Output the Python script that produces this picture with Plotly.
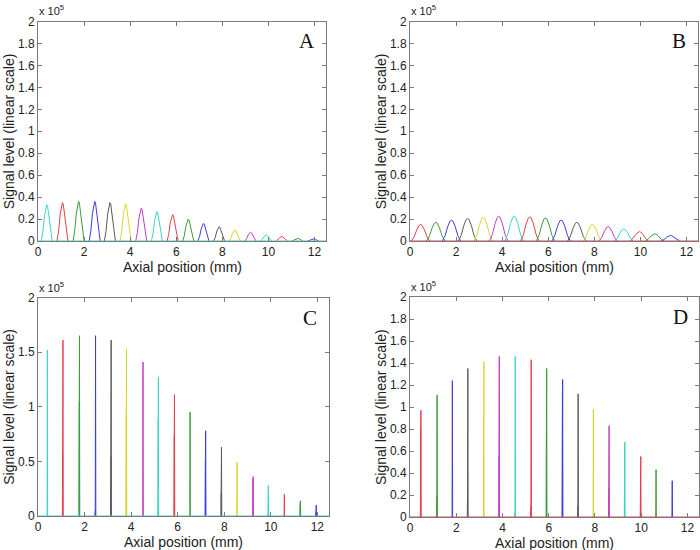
import plotly.graph_objects as go

# ---------------- data (signal in units of 1e5) ----------------
palette = {"c": "#3fd3c3", "r": "#e2404a", "g": "#3c9a3c", "b": "#3c3ce0",
           "k": "#5a5a5a", "y": "#d6d630", "m": "#c43cc4"}

# Panel A: smooth peaks
a_pos = [0.38, 1.06, 1.76, 2.46, 3.12, 3.80, 4.48, 5.16, 5.84, 6.52, 7.18, 7.86,
         8.54, 9.22, 9.90, 10.58, 11.26, 11.94]
a_val = [0.33, 0.35, 0.36, 0.36, 0.35, 0.34, 0.30, 0.27, 0.24, 0.20, 0.16, 0.13,
         0.10, 0.08, 0.055, 0.04, 0.025, 0.02]
a_col = ["c", "r", "g", "b", "k", "y", "m", "c", "r", "g", "b", "k", "y", "m",
         "c", "r", "g", "b"]
a_halfwidth = 0.24

# Panel B: wider smooth peaks
b_pos = [0.46, 1.12, 1.80, 2.50, 3.18, 3.85, 4.52, 5.20, 5.88, 6.56, 7.24, 7.92,
         8.60, 9.28, 9.95, 10.62, 11.30]
b_val = [0.15, 0.17, 0.19, 0.205, 0.215, 0.225, 0.225, 0.22, 0.21, 0.19, 0.17,
         0.15, 0.13, 0.11, 0.085, 0.065, 0.05]
b_col = ["r", "g", "b", "k", "y", "m", "c", "r", "g", "b", "k", "y", "m", "c",
         "r", "g", "b"]
b_halfwidth = 0.40

# normalised peak profile (offset in half-widths, relative height)
profile_off = [-1.0, -0.7, -0.4, -0.15, 0.0, 0.15, 0.4, 0.7, 1.0]
profile_rel = [0.0, 0.25, 0.70, 0.96, 1.0, 0.96, 0.70, 0.25, 0.0]

# Panel C: spikes (main height, secondary height)
c_pos = [0.39, 1.06, 1.77, 2.46, 3.13, 3.79, 4.50, 5.16, 5.85, 6.52, 7.19, 7.87,
         8.54, 9.23, 9.88, 10.57, 11.26, 11.94]
c_main = [1.52, 1.61, 1.65, 1.65, 1.61, 1.53, 1.41, 1.27, 1.11, 0.95, 0.78, 0.63,
          0.49, 0.36, 0.28, 0.20, 0.14, 0.10]
c_sec = [0.0, 0.57, 1.04, 0.05, 0.54, 0.97, 0.0, 0.88, 0.74, 0.0, 0.53, 0.21,
         0.0, 0.34, 0.03, 0.0, 0.12, 0.03]
c_col = ["c", "r", "g", "b", "k", "y", "m", "c", "r", "g", "b", "k", "y", "m",
         "c", "r", "g", "b"]

# Panel D: spikes
d_pos = [0.46, 1.16, 1.82, 2.49, 3.18, 3.85, 4.54, 5.23, 5.90, 6.59, 7.26, 7.92,
         8.60, 9.28, 9.97, 10.63, 11.33]
d_main = [0.97, 1.11, 1.24, 1.35, 1.41, 1.46, 1.46, 1.43, 1.35, 1.25, 1.12, 0.98,
          0.83, 0.68, 0.55, 0.43, 0.33]
d_sec = [0.81, 0.19, 0.0, 0.24, 0.0, 0.55, 0.04, 0.10, 0.77, 1.15, 0.10, 0.02,
         0.26, 0.64, 0.30, 0.0, 0.0]
d_col = ["r", "g", "b", "k", "y", "m", "c", "r", "g", "b", "k", "y", "m", "c",
         "r", "g", "b"]

baseline_col = {"A": "c", "B": "r", "C": "c", "D": "r"}

x_ticks = [0, 2, 4, 6, 8, 10, 12]
y_ticks_fine = [0, 0.2, 0.4, 0.6, 0.8, 1, 1.2, 1.4, 1.6, 1.8, 2]
y_ticks_c = [0, 0.5, 1, 1.5, 2]

# ---------------- layout geometry ----------------
W, H = 700, 550
panels = {
    "A": dict(x0=38, x1=326, y0=21.5, y1=241, xa="x", ya="y", yt=y_ticks_fine),
    "B": dict(x0=410, x1=698, y0=21.5, y1=241, xa="x2", ya="y2", yt=y_ticks_fine),
    "C": dict(x0=38, x1=329, y0=297.5, y1=516, xa="x3", ya="y3", yt=y_ticks_c),
    "D": dict(x0=410, x1=699, y0=297, y1=517, xa="x4", ya="y4", yt=y_ticks_fine),
}

fig = go.Figure()


def add_line(key, xs, ys, col):
    p = panels[key]
    fig.add_trace(go.Scatter(x=xs, y=ys, mode="lines", xaxis=p["xa"], yaxis=p["ya"],
                             line=dict(color=palette[col], width=1),
                             showlegend=False, hoverinfo="skip"))


def smooth_peaks(key, pos, val, cols, hw):
    for x, v, c in zip(pos, val, cols):
        xs = [x + o * hw for o in profile_off]
        ys = [v * r for r in profile_rel]
        add_line(key, xs, ys, c)


def spikes(key, pos, main, sec, cols):
    d = 0.012
    for x, m, s, c in zip(pos, main, sec, cols):
        xs = [x - d, x, x + d, x + 2 * d]
        ys = [0, s, m, 0]
        add_line(key, xs, ys, c)
        if s > 0:
            add_line(key, [x, x], [0, s], c)


smooth_peaks("A", a_pos, a_val, a_col, a_halfwidth)
smooth_peaks("B", b_pos, b_val, b_col, b_halfwidth)
spikes("C", c_pos, c_main, c_sec, c_col)
spikes("D", d_pos, d_main, d_sec, d_col)

for key in panels:
    add_line(key, [0, 12.5], [0, 0], baseline_col[key])

axis_col = "#7a7a7a"
sans = "Liberation Sans, Arial, sans-serif"
tick_font = dict(family=sans, size=12, color="#222222")
annotations = []
for key, p in panels.items():
    xn = p["xa"].replace("x", "xaxis")
    yn = p["ya"].replace("y", "yaxis")
    fig.layout[xn] = dict(domain=[p["x0"] / W, p["x1"] / W], range=[0, 12.5],
                          anchor=p["ya"], tickvals=x_ticks, ticks="inside", ticklen=4,
                          tickcolor=axis_col, showline=True, linecolor=axis_col,
                          linewidth=1, mirror="ticks", showgrid=False, zeroline=False,
                          tickfont=tick_font, fixedrange=True, automargin=False)
    fig.layout[yn] = dict(domain=[1 - p["y1"] / H, 1 - p["y0"] / H], range=[0, 2],
                          anchor=p["xa"], tickvals=p["yt"], ticks="inside", ticklen=4,
                          tickcolor=axis_col, showline=True, linecolor=axis_col,
                          linewidth=1, mirror="ticks", showgrid=False, zeroline=False,
                          tickfont=tick_font, fixedrange=True, automargin=False)
    cx = (p["x0"] + p["x1"]) / 2
    cy = (p["y0"] + p["y1"]) / 2
    annotations.append(dict(text="Axial position (mm)", x=cx / W, y=1 - (p["y1"] + 26) / H,
                            xref="paper", yref="paper", showarrow=False,
                            xanchor="center", yanchor="middle",
                            font=dict(family=sans, size=14, color="#222222")))
    annotations.append(dict(text="Signal level (linear scale)", x=(p["x0"] - 29) / W,
                            y=1 - cy / H, xref="paper", yref="paper", showarrow=False,
                            textangle=-90, xanchor="center", yanchor="middle",
                            font=dict(family=sans, size=14, color="#222222")))
    annotations.append(dict(text="x 10<sup>5</sup>", x=(p["x0"] - 1) / W,
                            y=1 - (p["y0"] - 2) / H, xref="paper", yref="paper",
                            showarrow=False, xanchor="left", yanchor="bottom",
                            font=dict(family=sans, size=11, color="#222222")))
    annotations.append(dict(text=key, x=(p["x1"] - 19) / W, y=1 - (p["y0"] + 20) / H,
                            xref="paper", yref="paper", showarrow=False,
                            xanchor="center", yanchor="middle",
                            font=dict(family="Liberation Serif, Times New Roman, serif",
                                      size=21, color="#111111")))

fig.update_layout(template="none", width=W, height=H,
                  margin=dict(l=0, r=0, t=0, b=0, autoexpand=False),
                  paper_bgcolor="white", plot_bgcolor="white",
                  annotations=annotations, showlegend=False)

fig.write_html("out.html", config={"displayModeBar": False},
               post_script="document.body.style.margin='0';"
                           "document.body.style.overflow='hidden';")
